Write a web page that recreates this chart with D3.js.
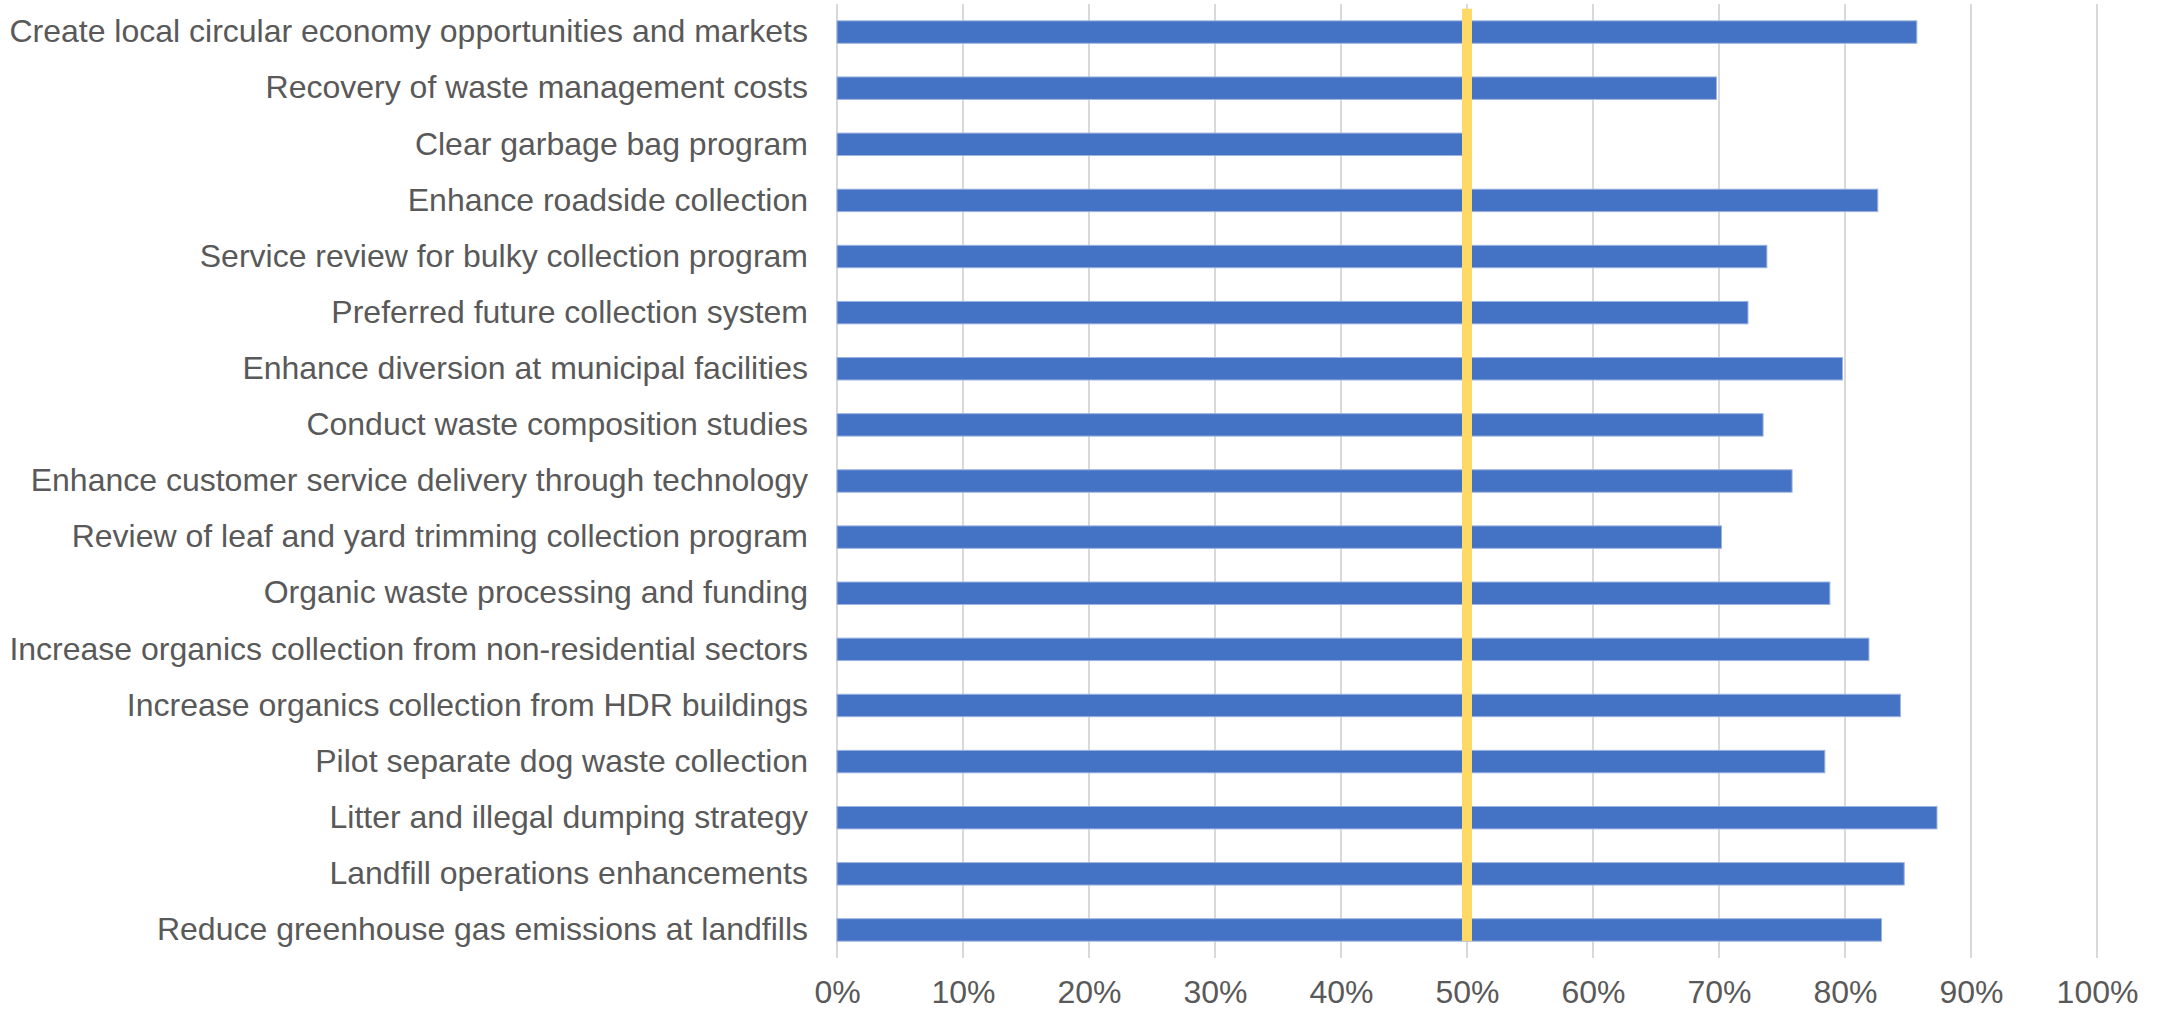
<!DOCTYPE html>
<html>
<head>
<meta charset="utf-8">
<script src="https://cdn.jsdelivr.net/npm/d3@7"></script>
<style>
  html, body { margin: 0; padding: 0; background: #fff; }
  svg { display: block; }
</style>
</head>
<body>
<svg id="chart"></svg>
<script>
var width = 2164,
    height = 1009,
    margin = {top: 4, right: 67, bottom: 51, left: 837};

let categories = [
    "Create local circular economy opportunities and markets",
    "Recovery of waste management costs",
    "Clear garbage bag program",
    "Enhance roadside collection",
    "Service review for bulky collection program",
    "Preferred future collection system",
    "Enhance diversion at municipal facilities",
    "Conduct waste composition studies",
    "Enhance customer service delivery through technology",
    "Review of leaf and yard trimming collection program",
    "Organic waste processing and funding",
    "Increase organics collection from non-residential sectors",
    "Increase organics collection from HDR buildings",
    "Pilot separate dog waste collection",
    "Litter and illegal dumping strategy",
    "Landfill operations enhancements",
    "Reduce greenhouse gas emissions at landfills"
];

// share of support
let support = [0.857, 0.698, 0.497, 0.826, 0.738, 0.723, 0.798, 0.735, 0.758, 0.702,
               0.788, 0.819, 0.844, 0.784, 0.873, 0.847, 0.829];

let tickValues = [0, 0.1, 0.2, 0.3, 0.4, 0.5, 0.6, 0.7, 0.8, 0.9, 1.0];
let threshold = 0.5;

let data = categories.map((c, i) => ({name: c, value: support[i]}));

let svg = d3.select("#chart")
    .attr("width", width)
    .attr("height", height)
    .style("font-family", "'Liberation Sans', Arial, sans-serif");

let x = d3.scaleLinear()
    .domain([0, 1])
    .range([margin.left, width - margin.right]);

let y = d3.scaleBand()
    .domain(categories)
    .range([margin.top, height - margin.bottom])
    .paddingInner(0.6)
    .paddingOuter(0.3);

// gridlines
svg.append("g")
    .selectAll("line")
    .data(tickValues)
    .join("line")
    .attr("x1", d => x(d))
    .attr("x2", d => x(d))
    .attr("y1", margin.top)
    .attr("y2", height - margin.bottom)
    .attr("stroke", "#d9d9d9")
    .attr("stroke-width", 2);

// bars
svg.append("g")
    .selectAll("rect")
    .data(data)
    .join("rect")
    .attr("x", x(0))
    .attr("y", d => y(d.name))
    .attr("width", d => x(d.value) - x(0))
    .attr("height", y.bandwidth())
    .attr("fill", "#4472c4")
    .attr("stroke", "#9db3e0")
    .attr("stroke-width", 1);

// 50% reference line
svg.append("line")
    .attr("x1", x(threshold))
    .attr("x2", x(threshold))
    .attr("y1", y(categories[0]) - 12)
    .attr("y2", y(categories[categories.length - 1]) + y.bandwidth())
    .attr("stroke", "#ffd966")
    .attr("stroke-width", 10);

// category labels
let yAxis = (g) => g
    .attr("transform", `translate(${margin.left - 29}, 0)`)
    .call(d3.axisLeft(y).tickSize(0).tickPadding(0))
    .call(g => g.select(".domain").remove());

svg.append("g")
    .call(yAxis)
    .selectAll("text")
    .attr("font-size", 32)
    .attr("fill", "#595959")
    .style("font-family", "'Liberation Sans', Arial, sans-serif");

// x axis labels
let xAxis = (g) => g
    .attr("transform", `translate(0, ${height - margin.bottom})`)
    .call(d3.axisBottom(x).tickValues(tickValues).tickFormat(d3.format(".0%")).tickSize(0).tickPadding(22))
    .call(g => g.select(".domain").remove());

svg.append("g")
    .call(xAxis)
    .selectAll("text")
    .attr("font-size", 32)
    .attr("fill", "#595959")
    .style("font-family", "'Liberation Sans', Arial, sans-serif");
</script>
</body>
</html>
